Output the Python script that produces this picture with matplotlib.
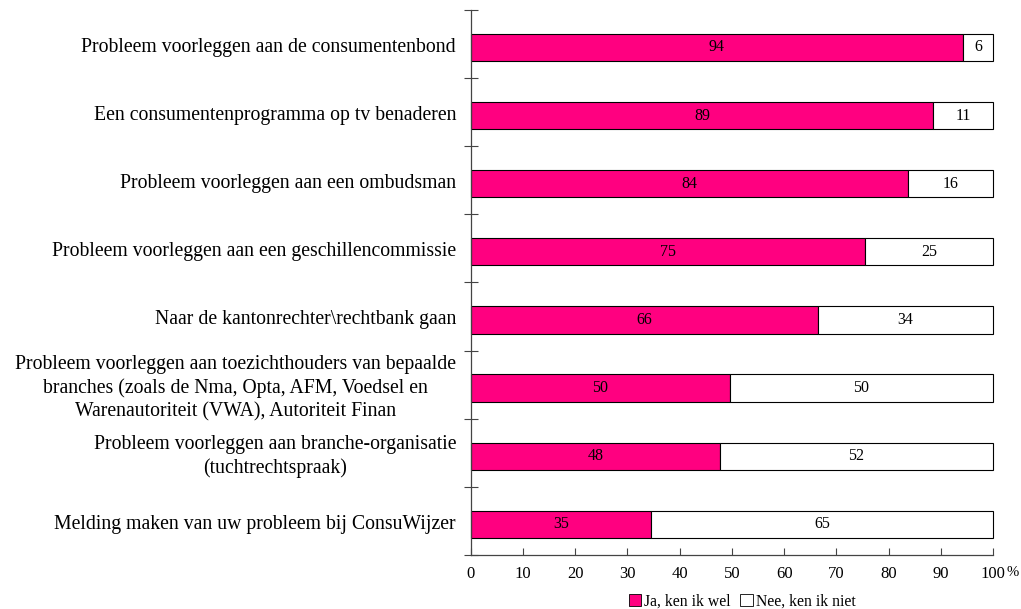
import matplotlib
matplotlib.use("Agg")
import matplotlib.pyplot as plt
from matplotlib.patches import Patch

plt.rcParams['font.family'] = ['Liberation Serif', 'DejaVu Serif']

categories = [
    "Probleem voorleggen aan de consumentenbond",
    "Een consumentenprogramma op tv benaderen",
    "Probleem voorleggen aan een ombudsman",
    "Probleem voorleggen aan een geschillencommissie",
    "Naar de kantonrechter\\rechtbank gaan",
    "Probleem voorleggen aan toezichthouders van bepaalde\nbranches (zoals de Nma, Opta, AFM, Voedsel en\nWarenautoriteit (VWA), Autoriteit Finan",
    "Probleem voorleggen aan branche-organisatie\n(tuchtrechtspraak)",
    "Melding maken van uw probleem bij ConsuWijzer",
]
ja = [94, 89, 84, 75, 66, 50, 48, 35]
ja_exact = [94.2, 88.6, 83.8, 75.4, 66.4, 49.6, 47.7, 34.6]
nee = [6, 11, 16, 25, 34, 50, 52, 65]
series_names = ["Ja, ken ik wel", "Nee, ken ik niet"]
xticks = [0, 10, 20, 30, 40, 50, 60, 70, 80, 90, 100]

pink = '#FF0080'

fig = plt.figure(figsize=(10.21, 6.09), dpi=100)
ax = fig.add_axes([0.461, 0.0887, 0.5116, 0.8949])

ypos = list(range(len(categories)))
nee_w = [100 - j for j in ja_exact]
b1 = ax.barh([y + 0.05 for y in ypos], ja_exact, height=0.4, color=pink, edgecolor='black', linewidth=0.8)
b2 = ax.barh([y + 0.05 for y in ypos], nee_w, left=ja_exact, height=0.4, color='white', edgecolor='black', linewidth=0.8)
for p in list(b1) + list(b2):
    p.set_clip_on(False)

for y, je, j, n in zip(ypos, ja_exact, ja, nee):
    ax.text(je / 2, y + 0.05, str(j), ha='center', va='center', fontsize=11.5)
    ax.text(je + (100 - je) / 2, y + 0.05, str(n), ha='center', va='center', fontsize=11.5)

ax.set_xlim(0, 100)
ax.set_ylim(len(categories) - 0.5, -0.5)
ax.set_xticks(xticks)
ax.set_xticklabels([str(t) for t in xticks], fontsize=12)
ax.set_yticks([i - 0.5 for i in range(len(categories) + 1)])
ax.set_yticklabels([])
ax.tick_params(axis='y', direction='inout', length=10, width=0.8, color='#444444')
ax.tick_params(axis='x', direction='in', length=5, width=0.8, color='#444444', pad=8)

for i, c in enumerate(categories):
    ax.text(-2.8, i + 0.05, c, ha='right', va='center', multialignment='center',
            fontsize=14.2, linespacing=1.3, transform=ax.transData)

for s in ['top', 'right']:
    ax.spines[s].set_visible(False)
for s in ['left', 'bottom']:
    ax.spines[s].set_color('#444444')
    ax.spines[s].set_linewidth(0.9)

fig.text(0.986, 0.05, "%", fontsize=10.5, ha='left', va='bottom')

handles = [Patch(facecolor=pink, edgecolor='black', linewidth=0.6),
           Patch(facecolor='white', edgecolor='black', linewidth=0.6)]
fig.legend(handles, series_names, loc='center', bbox_to_anchor=(0.727, 0.012),
           ncol=2, frameon=False, fontsize=11.3, handlelength=0.8, handleheight=0.8,
           handletextpad=0.2, columnspacing=0.6, borderaxespad=0, borderpad=0)

fig.savefig("out.png", dpi=100)
